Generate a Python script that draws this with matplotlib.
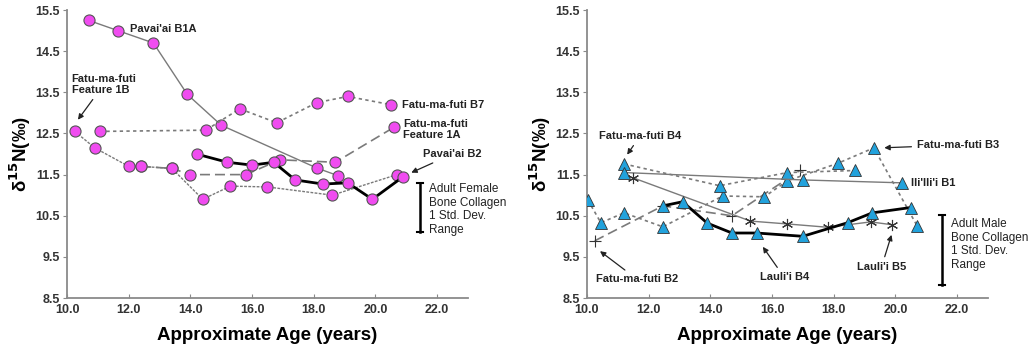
import numpy as np
import matplotlib.pyplot as plt

plt.rcParams['font.family'] = ['Liberation Sans', 'DejaVu Sans']

# ---- painel esquerdo (feminino) ----
b1a_x = [10.7, 11.65, 12.8, 13.9, 15.0, 18.1, 18.8]
b1a_y = [15.25, 15.0, 14.7, 13.45, 12.7, 11.66, 11.47]

f1b_x = [10.25, 10.9, 12.0, 12.4, 13.4, 14.4, 15.3, 16.5, 18.6, 20.7]
f1b_y = [12.55, 12.15, 11.7, 11.7, 11.65, 10.9, 11.22, 11.2, 11.0, 11.5]

b7_x = [11.06, 14.5, 15.6, 16.8, 18.1, 19.1, 20.5]
b7_y = [12.55, 12.58, 13.1, 12.76, 13.25, 13.4, 13.2]

f1a_x = [12.4, 13.4, 14.0, 15.8, 16.9, 18.7, 20.6]
f1a_y = [11.7, 11.65, 11.5, 11.5, 11.86, 11.8, 12.65]

b2_x = [14.2, 15.2, 16.0, 16.7, 17.4, 18.3, 19.1, 19.9, 20.9]
b2_y = [12.0, 11.8, 11.73, 11.8, 11.37, 11.27, 11.3, 10.9, 11.45]

fem_sd = [10.1, 11.3]

# ---- painel direito (masculino) ----
b3_x = [10.03, 10.45, 11.2, 12.46, 14.4, 15.75, 16.5, 18.15, 19.3, 20.7]
b3_y = [10.88, 10.33, 10.57, 10.23, 10.98, 10.96, 11.35, 11.78, 12.15, 10.26]

fb4_x = [11.2, 14.3, 16.5, 18.7]
fb4_y = [11.76, 11.23, 11.55, 11.6]

ili_x = [11.2, 17.0, 20.2]
ili_y = [11.55, 11.37, 11.3]

fb2_x = [10.25, 12.46, 14.7, 16.9]
fb2_y = [9.89, 10.74, 10.5, 11.6]

lb5_x = [11.5, 15.3, 16.5, 17.8, 19.2, 19.9]
lb5_y = [11.42, 10.37, 10.3, 10.22, 10.35, 10.28]

lb4_x = [12.46, 13.1, 13.9, 14.7, 15.5, 17.0, 18.45, 19.25, 20.5]
lb4_y = [10.74, 10.84, 10.32, 10.08, 10.08, 10.0, 10.33, 10.57, 10.7]

male_sd = [8.82, 10.52]

xticks = [10.0, 12.0, 14.0, 16.0, 18.0, 20.0, 22.0]
yticks = [8.5, 9.5, 10.5, 11.5, 12.5, 13.5, 14.5, 15.5]

cinza = '#7a7a7a'
rosa = '#f04cf0'
azul = '#22a2dc'

fig = plt.figure(figsize=(10.36, 3.52), dpi=100)
ax1 = fig.add_axes([0.0647, 0.1534, 0.387, 0.818])
ax2 = fig.add_axes([0.5666, 0.1534, 0.387, 0.818])

circ = dict(marker='o', ms=8, mfc=rosa, mec='#555555', mew=0.8)
tri = dict(marker='^', ms=8.5, mfc=azul, mec='#333333', mew=0.6)

# linhas finas cinza
ax1.plot(b1a_x, b1a_y, color=cinza, lw=1.0, ls='-', **circ, zorder=3)
ax1.plot(f1b_x, f1b_y, color=cinza, lw=1.0, ls=(0, (2, 1)), **circ, zorder=3)
ax1.plot(b7_x, b7_y, color=cinza, lw=1.2, ls=(0, (2, 2)), **circ, zorder=3)
ax1.plot(f1a_x, f1a_y, color=cinza, lw=1.2, ls=(0, (6, 3)), **circ, zorder=3)
ax1.plot(b2_x, b2_y, color='black', lw=2.0, ls='-', **circ, zorder=4)

ax2.plot(b3_x, b3_y, color=cinza, lw=1.2, ls=(0, (2, 2)), **tri, zorder=3)
ax2.plot(fb4_x, fb4_y, color=cinza, lw=1.2, ls=(0, (2, 2)), **tri, zorder=3)
ax2.plot(ili_x, ili_y, color=cinza, lw=1.0, ls='-', **tri, zorder=3)
ax2.plot(fb2_x, fb2_y, color=cinza, lw=1.2, ls=(0, (6, 3)), marker='+', ms=8,
         mec='#333333', mew=0.8, zorder=2)
ax2.plot(lb5_x, lb5_y, color=cinza, lw=1.0, ls='-', marker=(6, 2, 0), ms=8,
         mec='#333333', mew=0.8, zorder=3)
ax2.plot(lb4_x, lb4_y, color='black', lw=2.0, ls='-', **tri, zorder=4)

for ax in (ax1, ax2):
    ax.set_xlim(10, 23)
    ax.set_ylim(8.5, 15.5)
    ax.set_xticks(xticks)
    ax.set_yticks(yticks)
    ax.set_xticklabels([f'{v:.1f}' for v in xticks], fontweight='bold', fontsize=9, color='#333333')
    ax.set_yticklabels([f'{v:.1f}' for v in yticks], fontweight='bold', fontsize=9, color='#333333')
    for s in ('top', 'right'):
        ax.spines[s].set_visible(False)
    for s in ('left', 'bottom'):
        ax.spines[s].set_color('#8a8a8a')
        ax.spines[s].set_linewidth(1.3)
    ax.tick_params(axis='x', direction='in', length=3, color='#8a8a8a', pad=4)
    ax.tick_params(axis='y', direction='out', length=3, color='#8a8a8a', pad=2)
    ax.set_xlabel('Approximate Age (years)', fontsize=13.5, fontweight='bold', labelpad=8)
    ax.set_ylabel('δ$^{\\mathbf{15}}$N(‰)', fontsize=13.5, fontweight='bold', labelpad=2)

# barras de desvio padrão
ax1.plot([21.45, 21.45], fem_sd, color='black', lw=1.8)
ax1.plot([21.35, 21.55], [fem_sd[0]] * 2, color='black', lw=1.5)
ax1.plot([21.35, 21.55], [fem_sd[1]] * 2, color='black', lw=1.5)
ax1.text(21.75, 11.3, 'Adult Female\nBone Collagen\n1 Std. Dev.\nRange',
         fontsize=8.5, va='top', ha='left', color='#222222', linespacing=1.2, clip_on=False)

ax2.plot([21.5, 21.5], male_sd, color='black', lw=1.8)
ax2.plot([21.4, 21.6], [male_sd[0]] * 2, color='black', lw=1.5)
ax2.plot([21.4, 21.6], [male_sd[1]] * 2, color='black', lw=1.5)
ax2.text(21.8, 10.45, 'Adult Male\nBone Collagen\n1 Std. Dev.\nRange',
         fontsize=8.5, va='top', ha='left', color='#222222', linespacing=1.2, clip_on=False)

lab = dict(fontsize=8, fontweight='bold', color='#222222', linespacing=1.1)
seta = dict(arrowstyle='-|>', color='#222222', lw=0.9, mutation_scale=8)

# rótulos esquerda
ax1.text(12.05, 15.05, "Pavai'ai B1A", va='center', **lab)
ax1.annotate('Fatu-ma-futi\nFeature 1B', xy=(10.3, 12.78), xytext=(10.15, 13.7),
             va='center', ha='left', arrowprops=seta, **lab)
ax1.text(20.85, 13.2, 'Fatu-ma-futi B7', va='center', **lab)
ax1.text(20.9, 12.6, 'Fatu-ma-futi\nFeature 1A', va='center', **lab)
ax1.annotate("Pavai'ai B2", xy=(21.08, 11.52), xytext=(21.55, 12.0),
             va='center', ha='left', arrowprops=seta, **lab)

# rótulos direita
ax2.annotate('Fatu-ma-futi B4', xy=(11.25, 11.93), xytext=(10.4, 12.45),
             va='center', ha='left', arrowprops=seta, **lab)
ax2.annotate('Fatu-ma-futi B3', xy=(19.55, 12.15), xytext=(20.7, 12.22),
             va='center', ha='left', arrowprops=seta, **lab)
ax2.text(20.5, 11.3, "Ili'Ili'i B1", va='center', **lab)
ax2.annotate('Fatu-ma-futi B2', xy=(10.35, 9.68), xytext=(10.3, 8.95),
             va='center', ha='left', arrowprops=seta, **lab)
ax2.annotate("Lauli'i B4", xy=(15.65, 9.8), xytext=(15.6, 9.0),
             va='center', ha='left', arrowprops=seta, **lab)
ax2.annotate("Lauli'i B5", xy=(19.9, 10.1), xytext=(18.75, 9.25),
             va='center', ha='left', arrowprops=seta, **lab)

fig.savefig('out.png', dpi=100)
